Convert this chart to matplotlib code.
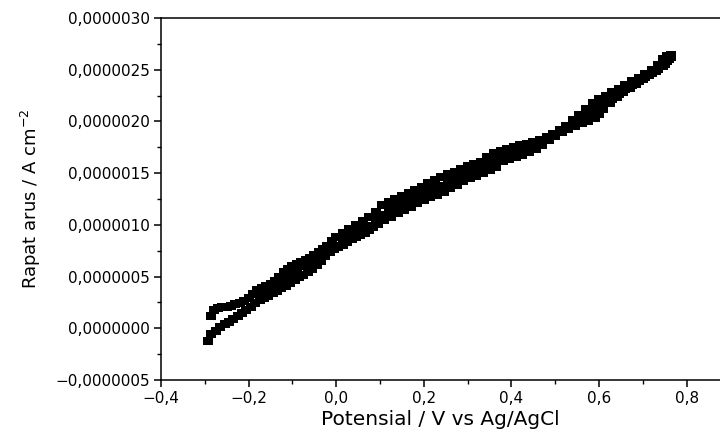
import numpy as np
import matplotlib
matplotlib.use('Agg')
import matplotlib.pyplot as plt
from matplotlib.ticker import FuncFormatter, MultipleLocator

# forward branch (starts bottom-left), potential in V, current density in 1e-6 A/cm2
fwd_x = [-0.293, -0.285, -0.275, -0.265, -0.255, -0.245, -0.235, -0.225, -0.215, -0.205,
         -0.195, -0.185, -0.175, -0.165, -0.155, -0.145, -0.135, -0.125, -0.115, -0.105,
         -0.095, -0.085, -0.075, -0.065, -0.055, -0.045, -0.035, -0.025, -0.015, -0.005,
         0.005, 0.015, 0.025, 0.035, 0.045, 0.055, 0.065, 0.075, 0.085, 0.095,
         0.11, 0.125, 0.14, 0.155, 0.17, 0.185, 0.2, 0.215, 0.23, 0.245,
         0.26, 0.275, 0.29, 0.305, 0.32, 0.335, 0.35, 0.365, 0.38, 0.395,
         0.41, 0.425, 0.44, 0.455, 0.47, 0.485, 0.5, 0.515, 0.53, 0.545,
         0.56, 0.575, 0.59, 0.6, 0.61, 0.625, 0.64, 0.655, 0.67, 0.685,
         0.7, 0.715, 0.73, 0.745, 0.755, 0.765]
fwd_j = [-0.12, -0.06, -0.03, 0.01, 0.04, 0.06, 0.09, 0.12, 0.15, 0.18,
         0.21, 0.24, 0.27, 0.29, 0.31, 0.34, 0.36, 0.39, 0.41, 0.44,
         0.47, 0.50, 0.52, 0.54, 0.57, 0.61, 0.65, 0.70, 0.74, 0.77,
         0.79, 0.81, 0.83, 0.86, 0.88, 0.90, 0.92, 0.95, 0.98, 1.01,
         1.05, 1.08, 1.11, 1.14, 1.17, 1.21, 1.24, 1.27, 1.29, 1.32,
         1.36, 1.39, 1.42, 1.45, 1.47, 1.50, 1.53, 1.56, 1.62, 1.64,
         1.66, 1.68, 1.70, 1.73, 1.77, 1.82, 1.86, 1.90, 1.93, 1.96,
         1.98, 2.00, 2.03, 2.07, 2.12, 2.18, 2.24, 2.28, 2.32, 2.36,
         2.41, 2.45, 2.49, 2.54, 2.58, 2.62]

# reverse branch (back from the top-right end)
rev_x = [0.765, 0.755, 0.745, 0.735, 0.72, 0.705, 0.69, 0.675, 0.66, 0.645,
         0.63, 0.615, 0.6, 0.585, 0.57, 0.555, 0.54, 0.525, 0.51, 0.495,
         0.48, 0.465, 0.45, 0.435, 0.42, 0.405, 0.39, 0.375, 0.36, 0.345,
         0.33, 0.315, 0.3, 0.285, 0.27, 0.255, 0.24, 0.225, 0.21, 0.195,
         0.18, 0.165, 0.15, 0.135, 0.12, 0.105, 0.09, 0.075, 0.06, 0.045,
         0.03, 0.015, 0.0, -0.01, -0.02, -0.03, -0.04, -0.05, -0.06, -0.07,
         -0.08, -0.09, -0.1, -0.11, -0.12, -0.13, -0.14, -0.15, -0.16, -0.17,
         -0.18, -0.19, -0.2, -0.21, -0.22, -0.23, -0.24, -0.25, -0.26, -0.27,
         -0.28, -0.285]
rev_j = [2.64, 2.63, 2.60, 2.55, 2.50, 2.46, 2.42, 2.39, 2.35, 2.31,
         2.28, 2.25, 2.22, 2.18, 2.12, 2.06, 2.01, 1.96, 1.92, 1.88,
         1.85, 1.82, 1.80, 1.78, 1.77, 1.75, 1.73, 1.71, 1.69, 1.66,
         1.61, 1.59, 1.57, 1.54, 1.51, 1.49, 1.46, 1.43, 1.40, 1.37,
         1.34, 1.31, 1.28, 1.25, 1.22, 1.19, 1.12, 1.08, 1.04, 1.00,
         0.96, 0.92, 0.88, 0.84, 0.80, 0.77, 0.74, 0.71, 0.68, 0.66,
         0.64, 0.62, 0.60, 0.57, 0.54, 0.50, 0.46, 0.43, 0.41, 0.39,
         0.37, 0.33, 0.29, 0.26, 0.24, 0.23, 0.22, 0.21, 0.21, 0.20,
         0.18, 0.12]

# points of the next cycle lying inside the band
mid_x = [-0.18, -0.165, -0.15, -0.135, -0.12, -0.105, -0.09, -0.075, -0.06, -0.045,
         -0.03, -0.015, 0.0, 0.015, 0.03, 0.045, 0.06, 0.075, 0.09, 0.105,
         0.12, 0.135, 0.15, 0.165, 0.18, 0.195, 0.21, 0.225, 0.24, 0.255,
         0.27, 0.285, 0.3, 0.315, 0.33, 0.345, 0.36, 0.375, 0.39, 0.405,
         0.42, 0.435, 0.45, 0.465, 0.48, 0.495, 0.51, 0.525, 0.54, 0.555,
         0.57, 0.585, 0.6, 0.615, 0.63, 0.645, 0.66, 0.675, 0.69, 0.705,
         0.72, 0.735, 0.75, 0.76]
mid_j = [0.33, 0.36, 0.39, 0.42, 0.47, 0.52, 0.56, 0.60, 0.64, 0.68,
         0.72, 0.76, 0.80, 0.85, 0.89, 0.92, 0.96, 0.99, 1.05, 1.10,
         1.15, 1.18, 1.21, 1.24, 1.27, 1.30, 1.33, 1.36, 1.38, 1.41,
         1.45, 1.48, 1.50, 1.53, 1.56, 1.59, 1.63, 1.66, 1.69, 1.71,
         1.72, 1.74, 1.75, 1.78, 1.82, 1.86, 1.90, 1.94, 1.98, 2.03,
         2.06, 2.10, 2.14, 2.18, 2.22, 2.27, 2.31, 2.35, 2.39, 2.43,
         2.47, 2.51, 2.56, 2.60]

xlabel = 'Potensial / V vs Ag/AgCl'
ylabel = r'Rapat arus / A cm$^{-2}$'

plt.rcParams['font.family'] = ['DejaVu Sans']
plt.rcParams['mathtext.fontset'] = 'dejavusans'
plt.rcParams['axes.unicode_minus'] = True

fig = plt.figure(figsize=(7.2, 4.36), dpi=100)
ax = fig.add_axes([161/720, 56/436, 1 - 161/720, 362/436])

# squares look a little wide in the source image
sq = [(-1.15, -1), (1.15, -1), (1.15, 1), (-1.15, 1), (-1.15, -1)]
for xs, js in [(fwd_x, fwd_j), (rev_x, rev_j), (mid_x, mid_j)]:
    ax.plot(xs, np.array(js) * 1e-6, ls='none', marker=sq, ms=7.3, mfc='black', mec='black', mew=0)

ax.set_xlim(-0.4, 0.876)
ax.set_ylim(-0.5e-6, 3.0e-6)
ax.spines['right'].set_visible(False)
for s in ['left', 'bottom', 'top']:
    ax.spines[s].set_linewidth(1.1)

ax.xaxis.set_major_locator(MultipleLocator(0.2))
ax.xaxis.set_minor_locator(MultipleLocator(0.1))
ax.yaxis.set_major_locator(MultipleLocator(0.5e-6))
ax.yaxis.set_minor_locator(MultipleLocator(0.25e-6))

def fx(v, p):
    return f'{v:.1f}'.replace('.', ',').replace('-', '\u2212')

def fy(v, p):
    s = f'{v:.7f}'.replace('.', ',')
    if s.startswith('-') and v > -1e-12: s = s[1:]
    return s.replace('-', '\u2212')

ax.xaxis.set_major_formatter(FuncFormatter(fx))
ax.yaxis.set_major_formatter(FuncFormatter(fy))
ax.tick_params(which='major', direction='out', length=5, width=1.1, labelsize=11, pad=3)
ax.tick_params(which='minor', direction='out', length=3, width=1.0)
ax.tick_params(top=False, right=False)

ax.set_xlabel(xlabel, fontsize=14.5, labelpad=3)
ax.set_ylabel(ylabel, fontsize=13, labelpad=9)

fig.savefig('out.png', dpi=100)
